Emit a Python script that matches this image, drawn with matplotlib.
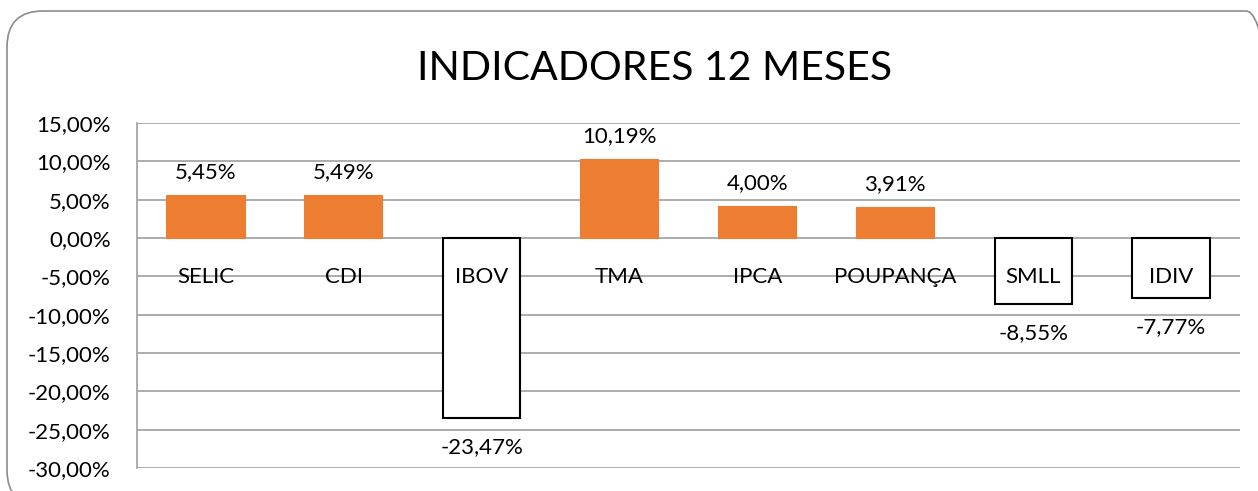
import matplotlib.pyplot as plt
from matplotlib.patches import FancyBboxPatch
from matplotlib.ticker import FuncFormatter
from matplotlib.transforms import IdentityTransform

plt.rcParams['font.family'] = ['Lato', 'DejaVu Sans']

categories = ['SELIC', 'CDI', 'IBOV', 'TMA', 'IPCA', 'POUPANÇA', 'SMLL', 'IDIV']
values = [5.45, 5.49, -23.47, 10.19, 4.00, 3.91, -8.55, -7.77]
y_ticks = [15, 10, 5, 0, -5, -10, -15, -20, -25, -30]

orange = '#ED7D31'
grid_gray = '#A6A6A6'
W, H = 1258, 491


def br_pct(v):
    return f'{v:.2f}'.replace('.', ',') + '%'


fig = plt.figure(figsize=(W / 100, H / 100), dpi=100)

# rounded chart frame (runs off the right and bottom edge, like the source)
frame = FancyBboxPatch((7, -15), 1275, H - 11 + 15, boxstyle='round,pad=0,rounding_size=36',
                       transform=IdentityTransform(), facecolor='none', edgecolor='#8C8C8C',
                       linewidth=1.2, zorder=-1)
fig.patches.append(frame)

ax = fig.add_axes([137 / W, 1 - 468 / H, (1240 - 137) / W, (468 - 123) / H])
ax.set_facecolor('none')

x = list(range(len(categories)))
colors = [orange if v >= 0 else 'white' for v in values]
edges = [orange if v >= 0 else 'black' for v in values]
ax.bar(x, values, width=0.56, color=colors, edgecolor=edges, linewidth=1.5, zorder=3)

ax.set_xlim(-0.5, len(categories) - 0.5)
ax.set_ylim(-30, 15)
ax.set_yticks(y_ticks)
ax.yaxis.set_major_formatter(FuncFormatter(lambda v, p: br_pct(v)))
ax.tick_params(axis='y', length=0, labelsize=16, pad=19)
ax.set_xticks([])
ax.grid(axis='y', color=grid_gray, linewidth=1.3, zorder=0)

for s in ['right', 'bottom', 'top']:
    ax.spines[s].set_visible(False)
ax.spines['left'].set_color(grid_gray)
ax.spines['left'].set_linewidth(1.3)

# category labels next to the zero line
for xi, name in zip(x, categories):
    ax.annotate(name, (xi, 0), xytext=(0, -21), textcoords='offset points',
                ha='center', va='top', fontsize=16, zorder=4)

# data labels
for xi, v in zip(x, values):
    if v >= 0:
        ax.annotate(br_pct(v), (xi, v), xytext=(0, 10), textcoords='offset points',
                    ha='center', va='bottom', fontsize=16, zorder=4)
    else:
        ax.annotate(br_pct(v), (xi, v), xytext=(0, -14), textcoords='offset points',
                    ha='center', va='top', fontsize=16, zorder=4)

fig.text(655 / W, 1 - 68 / H, 'INDICADORES 12 MESES', ha='center', va='center', fontsize=29.5)

fig.savefig('out.png', dpi=100)
